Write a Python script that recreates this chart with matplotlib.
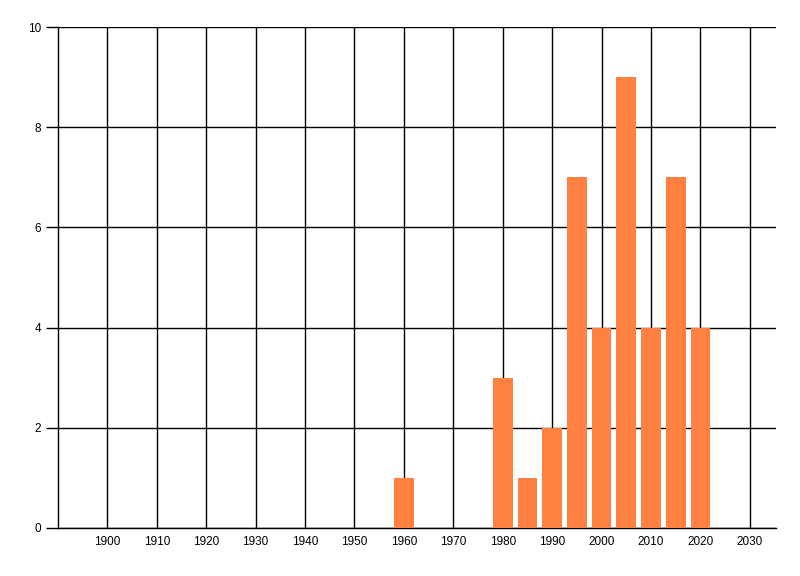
import matplotlib.pyplot as plt

plt.rcParams["font.family"] = ["Liberation Sans", "DejaVu Sans"]

years = [1960, 1980, 1985, 1990, 1995, 2000, 2005, 2010, 2015, 2020]
counts = [1, 3, 1, 2, 7, 4, 9, 4, 7, 4]
x_ticks = list(range(1900, 2031, 10))
y_ticks = [0, 2, 4, 6, 8, 10]

fig = plt.figure(figsize=(8, 5.76), dpi=100)
ax = fig.add_axes([58 / 800, 1 - 528 / 576, (776 - 58) / 800, (528 - 27) / 576])

ax.set_axisbelow(True)
ax.grid(True, color="black", linewidth=1)
ax.bar(years, counts, width=4, color="#FF8040", zorder=3)

ax.set_xlim(1890, 2035.3)
ax.set_ylim(0, 10)
ax.set_xticks(x_ticks)
ax.set_yticks(y_ticks)

ax.spines["top"].set_visible(False)
ax.spines["right"].set_visible(False)
for s in ("left", "bottom"):
    ax.spines[s].set_linewidth(1)
    ax.spines[s].set_color("black")

ax.tick_params(axis="x", length=0, pad=6, labelsize=8.5)
ax.tick_params(axis="y", length=9, width=1, pad=3, labelsize=8.5)

fig.savefig("out.png", dpi=100)
